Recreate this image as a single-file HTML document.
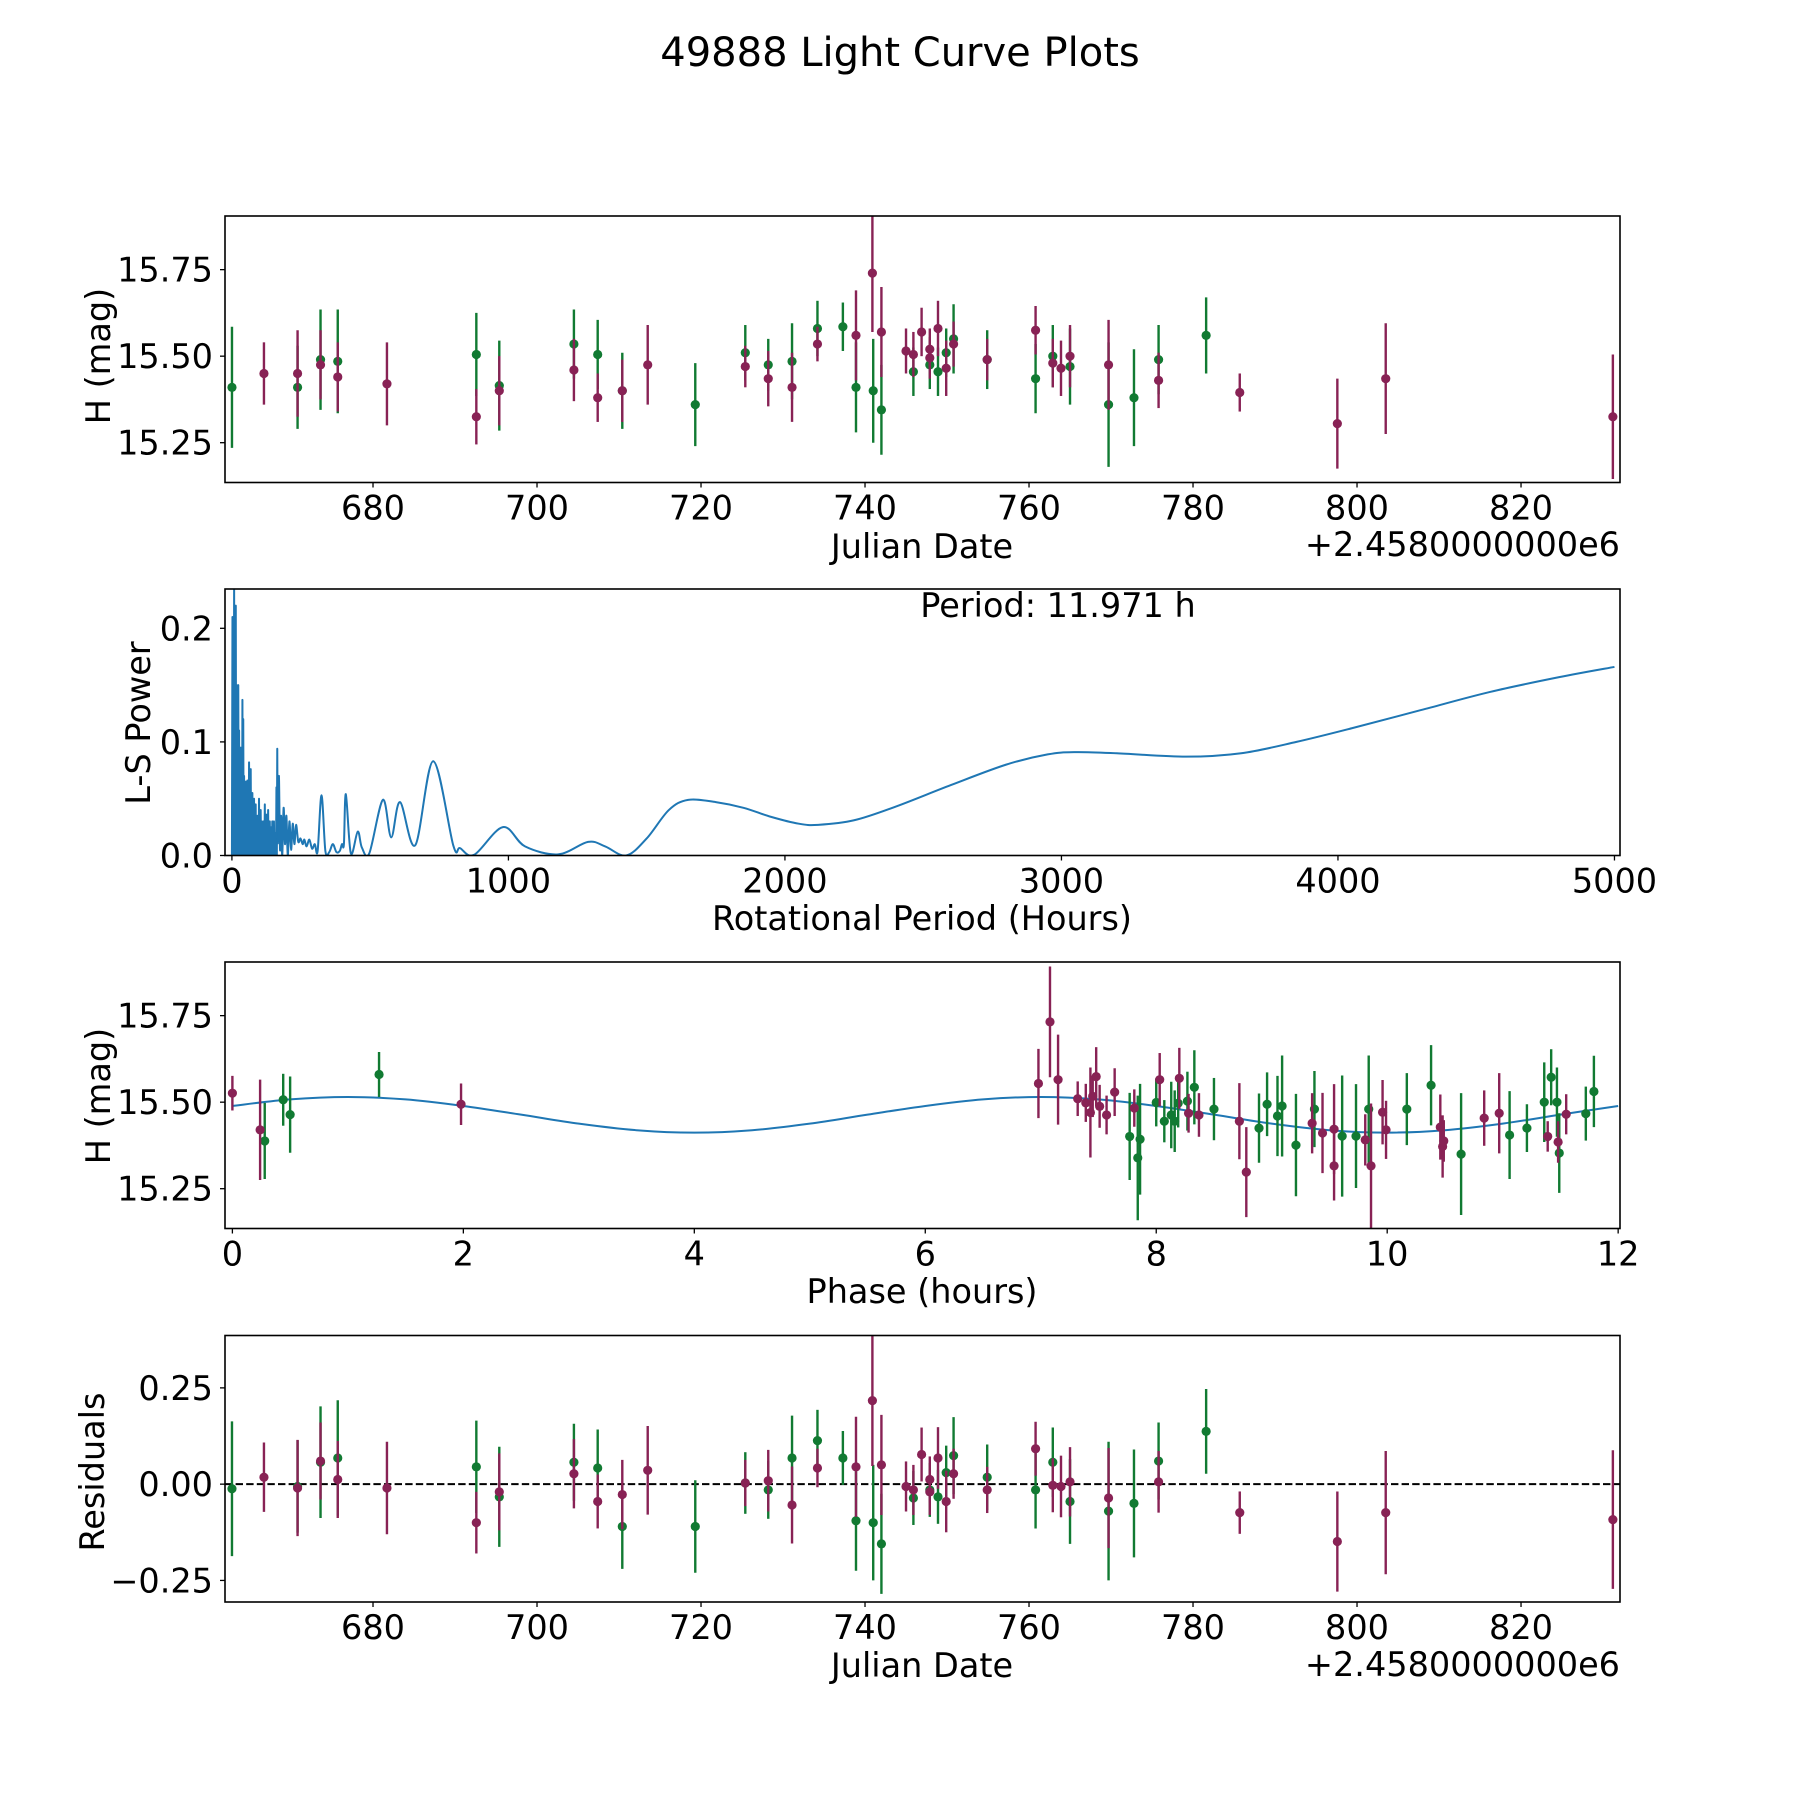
<!DOCTYPE html>
<html><head><meta charset="utf-8"><style>
html,body{margin:0;padding:0;background:#fff}
svg{display:block}
text{font-family:"DejaVu Sans","Liberation Sans",sans-serif;fill:#000}
</style></head><body>
<svg id="fig" width="1800" height="1800" viewBox="0 0 1800 1800" xmlns="http://www.w3.org/2000/svg">
<rect width="1800" height="1800" fill="#fff"/>
<text x="900" y="66" font-size="40" text-anchor="middle">49888 Light Curve Plots</text>
</svg>
<script>
// ---------- DATA ----------
const gDates=[662.8,670.8,673.6,675.7,692.6,695.4,704.5,707.4,710.4,719.3,725.4,728.2,731.1,734.2,737.3,738.9,741.0,742.0,745.9,747.9,748.9,749.9,750.8,754.9,760.8,762.9,765.0,769.7,772.8,775.8,781.6];
const gMags=[15.41,15.41,15.49,15.485,15.505,15.415,15.535,15.505,15.40,15.36,15.51,15.475,15.485,15.58,15.585,15.41,15.40,15.345,15.455,15.475,15.455,15.51,15.55,15.49,15.435,15.50,15.47,15.36,15.38,15.49,15.56];
const gErrs=[0.175,0.12,0.145,0.15,0.12,0.13,0.10,0.10,0.11,0.12,0.08,0.075,0.11,0.08,0.07,0.13,0.15,0.13,0.07,0.07,0.07,0.07,0.10,0.085,0.10,0.09,0.11,0.18,0.14,0.10,0.11];
const mDates=[666.7,670.8,673.6,675.7,681.7,692.6,695.4,704.5,707.4,710.4,713.5,725.4,728.2,731.1,734.2,738.9,740.9,742.0,745.0,745.9,746.9,747.9,747.9,748.9,749.9,750.8,754.9,760.8,762.9,763.9,765.0,769.7,775.8,785.7,797.6,803.5,831.2];
const mMags=[15.45,15.45,15.475,15.44,15.42,15.325,15.40,15.46,15.38,15.40,15.475,15.47,15.435,15.41,15.535,15.56,15.74,15.57,15.515,15.505,15.57,15.52,15.495,15.58,15.465,15.535,15.49,15.575,15.48,15.465,15.50,15.475,15.43,15.395,15.305,15.435,15.325];
const mErrs=[0.09,0.125,0.10,0.10,0.12,0.08,0.10,0.09,0.07,0.09,0.115,0.06,0.08,0.10,0.05,0.13,0.17,0.13,0.065,0.065,0.07,0.06,0.06,0.08,0.08,0.065,0.06,0.07,0.07,0.08,0.09,0.13,0.08,0.055,0.13,0.16,0.18];
const gResid=[-0.012,-0.006,0.057,0.068,0.045,-0.033,0.057,0.042,-0.11,-0.11,0.003,-0.015,0.068,0.113,0.068,-0.095,-0.10,-0.155,-0.036,-0.015,-0.033,0.03,0.074,0.018,-0.015,0.057,-0.045,-0.07,-0.05,0.06,0.137];
const mResid=[0.018,-0.01,0.06,0.012,-0.01,-0.10,-0.02,0.027,-0.045,-0.027,0.036,0.003,0.009,-0.054,0.042,0.045,0.217,0.05,-0.006,-0.015,0.077,0.012,-0.02,0.068,-0.045,0.027,-0.015,0.092,-0.003,-0.006,0.006,-0.036,0.006,-0.074,-0.149,-0.074,-0.092];
const gPhase=[0.28,0.44,0.50,1.27,7.77,7.84,7.86,8.00,8.07,8.13,8.16,8.19,8.27,8.33,8.50,8.89,8.96,9.05,9.09,9.21,9.37,9.61,9.73,9.84,10.17,10.38,10.64,11.06,11.21,11.36,11.42,11.47,11.49,11.72,11.79];
const gPhaseMag=[15.388,15.507,15.464,15.58,15.401,15.339,15.393,15.499,15.445,15.463,15.445,15.497,15.503,15.543,15.48,15.425,15.494,15.46,15.489,15.376,15.48,15.402,15.402,15.48,15.48,15.549,15.35,15.405,15.425,15.5,15.572,15.5,15.353,15.467,15.531];
const gPhaseErr=[0.11,0.075,0.11,0.065,0.126,0.18,0.16,0.069,0.061,0.096,0.089,0.07,0.085,0.107,0.09,0.10,0.092,0.116,0.146,0.148,0.11,0.175,0.15,0.155,0.104,0.116,0.176,0.127,0.069,0.115,0.081,0.10,0.115,0.078,0.103];
const mPhase=[0.0,0.24,1.98,6.98,7.08,7.15,7.32,7.39,7.43,7.45,7.48,7.51,7.57,7.64,7.81,8.03,8.20,8.28,8.37,8.72,8.78,9.35,9.44,9.54,9.54,9.81,9.86,9.96,9.99,10.46,10.48,10.49,10.84,10.97,11.39,11.48,11.55];
const mPhaseMag=[15.526,15.42,15.494,15.554,15.732,15.565,15.51,15.498,15.47,15.517,15.574,15.488,15.463,15.529,15.483,15.565,15.569,15.468,15.463,15.445,15.298,15.439,15.411,15.422,15.316,15.391,15.316,15.471,15.42,15.428,15.372,15.388,15.454,15.468,15.401,15.385,15.465];
const mPhaseErr=[0.05,0.145,0.06,0.10,0.16,0.13,0.05,0.055,0.13,0.06,0.085,0.062,0.056,0.069,0.054,0.077,0.088,0.056,0.063,0.11,0.13,0.087,0.116,0.13,0.10,0.074,0.18,0.093,0.084,0.094,0.09,0.06,0.08,0.116,0.044,0.06,0.058];
const modelPhase=[0,0.5,1,1.5,2,2.5,3,3.5,4,4.5,5,5.5,6,6.5,7,7.5,8,8.5,9,9.5,10,10.5,11,11.5,12];
const modelMag=[15.489,15.508,15.515,15.508,15.489,15.464,15.438,15.419,15.412,15.419,15.438,15.464,15.489,15.508,15.515,15.508,15.489,15.464,15.438,15.419,15.412,15.419,15.438,15.464,15.489];
const lsNoisePeriods=[0,2,3.5,5,6.5,8,9.5,11,12.5,14,15.5,17,18.5,20,21.5,23,24.5,26,27.5,29,30.5,32,33.5,35,36.5,38,39.5,41,42.5,44,45.5,47,48.5,50,51.5,53,54.5,56,57.5,59,60.5,62,63.5,65,66.5,68,69.5,71,72.5,74,75.5,77,78.5,80,81.5,83,84.5,86,87.5,89,90.5,92,93.5,95,96.5,98,99.5,101,102.5,104,105.5,107,108.5,110,111.5,113,114.5,116,117.5,119,120.5,122,123.5,125,126.5,128,129.5,131,132.5,134,135.5,137,138.5,140,141.5,143,144.5,146,147.5,149,150.5,152,153.5,155,156.5,158,159.5,161,162.5,164,165.5];
const lsNoisePowers=[0,0.21,0,0.16,0,0.24,0.01,0.2,0,0.22,0,0.15,0,0.1,0.01,0.15,0,0.11,0,0.09,0,0.095,0,0.06,0,0.137,0,0.12,0,0.07,0,0.05,0,0.065,0,0.045,0,0.066,0,0.05,0,0.082,0,0.04,0,0.076,0,0.03,0,0.055,0,0.04,0,0.05,0,0.025,0,0.045,0,0.03,0,0.035,0,0.02,0,0.05,0,0.02,0,0.04,0,0.03,0,0.015,0,0.03,0,0.02,0,0.045,0,0.01,0,0.036,0,0.02,0,0.04,0,0.025,0,0.03,0,0.015,0,0.025,0,0.03,0,0.02,0,0.03,0,0.01,0,0.02,0,0.06,0,0.094,0.01];
const lsPeriods=[167,170,174,178,182,187,192,197,202,208,214,220,226,232,240,248,256,262,270,280,290,300,310,324,338,352,365,378,390,398,405,412,430,455,470,497,546,576,608,663,728,801,825,876,980,1060,1180,1288,1350,1426,1500,1580,1650,1750,1850,1950,2050,2120,2250,2400,2600,2800,2950,3050,3200,3450,3650,3850,4050,4300,4550,4800,5000];
const lsPowers=[0.02,0.07,0.005,0.035,0.0,0.042,0.01,0.035,0.0,0.03,0.005,0.028,0.01,0.027,0.012,0.015,0.01,0.014,0.008,0.014,0.006,0.01,0.004,0.053,0.004,0.003,0.01,0.003,0.004,0.01,0.01,0.054,0.002,0.021,0.007,0.002,0.049,0.016,0.047,0.009,0.083,0.0085,0.0065,0.0006,0.025,0.008,0.001,0.012,0.008,0.0,0.015,0.040,0.049,0.047,0.042,0.034,0.028,0.027,0.031,0.043,0.062,0.080,0.089,0.091,0.090,0.087,0.090,0.100,0.112,0.128,0.144,0.157,0.166];
const dateTicks=[680,700,720,740,760,780,800,820];
const magTicks=[15.25,15.50,15.75];
const magTickLabels=["15.25","15.50","15.75"];
const periodTicks=[0,1000,2000,3000,4000,5000];
const powerTicks=[0,0.1,0.2];
const powerTickLabels=["0.0","0.1","0.2"];
const phaseTicks=[0,2,4,6,8,10,12];
const residTicks=[-0.25,0,0.25];
const residTickLabels=["\u22120.25","0.00","0.25"];

// ---------- LAYOUT ----------
const NS="http://www.w3.org/2000/svg";
const svg=document.getElementById('fig');
const L=225,R=1620,FS=33.5;
const P=[{t:216,b:482.5},{t:589,b:855.5},{t:962,b:1228.5},{t:1335.5,b:1602}];
const GREEN="#117a32",MAROON="#882255",BLUE="#1f77b4";
function el(tag,attrs,parent){const e=document.createElementNS(NS,tag);for(const k in attrs)e.setAttribute(k,attrs[k]);(parent||svg).appendChild(e);return e;}
function lin(d0,d1,r0,r1){return v=>r0+(v-d0)*(r1-r0)/(d1-d0);}
const xDate=lin(661.95,832.07,L,R);
const yMag1=lin(15.905,15.135,P[0].t,P[0].b);
const xPer=lin(-25,5020,L,R);
const yPow=lin(0.2346,0,P[1].t,P[1].b);
const xPh=lin(-0.064,12.016,L,R);
const yMag3=lin(15.905,15.135,P[2].t,P[2].b);
const yRes=lin(0.386,-0.306,P[3].t,P[3].b);

const defs=el('defs',{});
P.forEach((p,i)=>{const c=el('clipPath',{id:'clip'+i},defs);el('rect',{x:L,y:p.t,width:R-L,height:p.b-p.t},c);});

function panelGroup(i,name){const g=el('g',{'clip-path':'url(#clip'+i+')'});return g;}
function frame(i,name){const p=P[i];const r=el('rect',{x:L,y:p.t,width:R-L,height:p.b-p.t,fill:'none',stroke:'#000','stroke-width':1.6});}
function xTicks(i,vals,labels,sx,name){const p=P[i];const g=el('g',{});
 vals.forEach((v,k)=>{const x=sx(v);el('line',{x1:x,x2:x,y1:p.b,y2:p.b+5,stroke:'#000','stroke-width':1.3},g);
  const t=el('text',{x:x,y:p.b+37,'font-size':FS,'text-anchor':'middle'},g);t.textContent=labels[k];});}
function yTicks(i,vals,labels,sy,name){const g=el('g',{});
 vals.forEach((v,k)=>{const y=sy(v);el('line',{x1:L-5,x2:L,y1:y,y2:y,stroke:'#000','stroke-width':1.3},g);
  const t=el('text',{x:L-12,y:y+12,'font-size':FS,'text-anchor':'end'},g);t.textContent=labels[k];});}
function label(txt,x,y,rot,name,anchor){const t=el('text',{x:x,y:y,'font-size':FS,'text-anchor':anchor||'middle'});if(rot)t.setAttribute('transform','rotate(-90 '+x+' '+y+')');t.textContent=txt;}
function errPoints(g,xs,ys,es,sx,sy,color,name){
 xs.forEach((xv,k)=>{const x=sx(xv);
  const ln=el('line',{x1:x,x2:x,y1:sy(ys[k]+es[k]),y2:sy(ys[k]-es[k]),stroke:color,'stroke-width':2.4},g);
  
  const c=el('circle',{cx:x,cy:sy(ys[k]),r:4.6,fill:color},g);
  });}
function smoothPath(pts){let d='M'+pts[0][0]+','+pts[0][1];
 for(let i=0;i<pts.length-1;i++){const p0=pts[Math.max(0,i-1)],p1=pts[i],p2=pts[i+1],p3=pts[Math.min(pts.length-1,i+2)];
  const c1=[p1[0]+(p2[0]-p0[0])/6,p1[1]+(p2[1]-p0[1])/6],c2=[p2[0]-(p3[0]-p1[0])/6,p2[1]-(p3[1]-p1[1])/6];
  d+=' C'+c1[0]+','+c1[1]+' '+c2[0]+','+c2[1]+' '+p2[0]+','+p2[1];}return d;}
const dateLabels=dateTicks.map(String);

// ---------- PANEL 1 ----------
const g1=panelGroup(0,'light-curve-plot');
errPoints(g1,gDates,gMags,gErrs,xDate,yMag1,GREEN,'green-obs');
errPoints(g1,mDates,mMags,mErrs,xDate,yMag1,MAROON,'maroon-obs');
frame(0,'light-curve-axes');
xTicks(0,dateTicks,dateLabels,xDate,'light-curve-x-ticks');
yTicks(0,magTicks,magTickLabels,yMag1,'light-curve-y-ticks');
label('Julian Date',922,558,false,'light-curve-x-title');
label('+2.4580000000e6',1620,556,false,'light-curve-x-offset','end');
label('H (mag)',110,356,true,'light-curve-y-title');

// ---------- PANEL 2 ----------
const g2=panelGroup(1,'periodogram-plot');
let dn='';lsNoisePeriods.forEach((p,k)=>{dn+=(k?'L':'M')+xPer(p)+','+yPow(lsNoisePowers[k])+' ';});
const pn=el('path',{d:dn,fill:'none',stroke:BLUE,'stroke-width':2,'stroke-linejoin':'round'},g2);


const smPts=[[xPer(lsNoisePeriods[lsNoisePeriods.length-1]),yPow(lsNoisePowers[lsNoisePowers.length-1])]].concat(lsPeriods.map((p,k)=>[xPer(p),yPow(lsPowers[k])]));
const ps=el('path',{d:smoothPath(smPts),fill:'none',stroke:BLUE,'stroke-width':2,'stroke-linejoin':'round'},g2);


frame(1,'periodogram-axes');
xTicks(1,periodTicks,periodTicks.map(String),xPer,'periodogram-x-ticks');
yTicks(1,powerTicks,powerTickLabels,yPow,'periodogram-y-ticks');
label('Period: 11.971 h',1058,617,false,'period-annotation');
label('Rotational Period (Hours)',922,930,false,'periodogram-x-title');
label('L-S Power',150,723,true,'periodogram-y-title');

// ---------- PANEL 3 ----------
const g3=panelGroup(2,'phase-plot');
const mp=el('path',{d:smoothPath(modelPhase.map((p,k)=>[xPh(p),yMag3(modelMag[k])])),fill:'none',stroke:BLUE,'stroke-width':2},g3);


errPoints(g3,gPhase,gPhaseMag,gPhaseErr,xPh,yMag3,GREEN,'green-phase');
errPoints(g3,mPhase,mPhaseMag,mPhaseErr,xPh,yMag3,MAROON,'maroon-phase');
frame(2,'phase-axes');
xTicks(2,phaseTicks,phaseTicks.map(String),xPh,'phase-x-ticks');
yTicks(2,magTicks,magTickLabels,yMag3,'phase-y-ticks');
label('Phase (hours)',922,1303,false,'phase-x-title');
label('H (mag)',110,1096,true,'phase-y-title');

// ---------- PANEL 4 ----------
const g4=panelGroup(3,'residuals-plot');
const zl=el('line',{x1:L,x2:R,y1:yRes(0),y2:yRes(0),stroke:'#000','stroke-width':2,'stroke-dasharray':'7.4,3.2'},g4);


errPoints(g4,gDates,gResid,gErrs,xDate,yRes,GREEN,'green-resid');
errPoints(g4,mDates,mResid,mErrs,xDate,yRes,MAROON,'maroon-resid');
frame(3,'residuals-axes');
xTicks(3,dateTicks,dateLabels,xDate,'residuals-x-ticks');
yTicks(3,residTicks,residTickLabels,yRes,'residuals-y-ticks');
label('Julian Date',922,1677,false,'residuals-x-title');
label('+2.4580000000e6',1620,1676,false,'residuals-x-offset','end');
label('Residuals',104,1472,true,'residuals-y-title');
</script>
</body></html>
